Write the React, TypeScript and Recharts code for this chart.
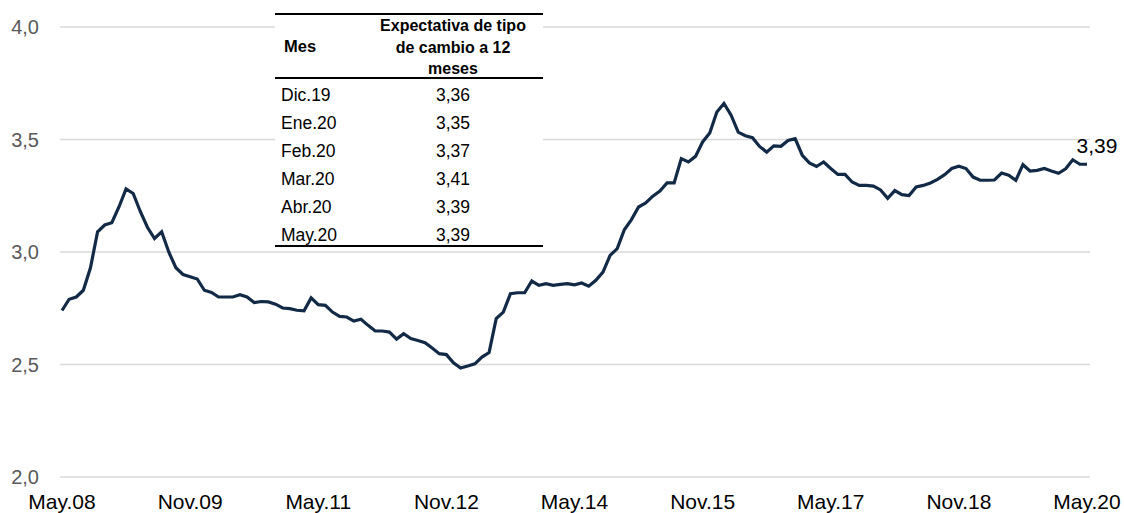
import { CartesianGrid, LabelList, Line, LineChart, XAxis, YAxis } from "recharts";

const FONT = '"Liberation Sans", Arial, sans-serif';

// Monthly series from May.08 to May.20
const monthNames = ["Ene", "Feb", "Mar", "Abr", "May", "Jun", "Jul", "Ago", "Sep", "Oct", "Nov", "Dic"];
const startYear = 2008;
const startMonth = 4; // May

const expectation = [
  2.74, 2.79, 2.8, 2.83, 2.93, 3.09, 3.12, 3.13, 3.2, 3.28, 3.26, 3.18,
  3.11, 3.06, 3.09, 3.0, 2.93, 2.9, 2.89, 2.88, 2.83, 2.82, 2.8, 2.8,
  2.8, 2.81, 2.8, 2.775, 2.78, 2.778, 2.768, 2.751, 2.748, 2.741, 2.739, 2.796,
  2.766, 2.763, 2.733, 2.714, 2.711, 2.693, 2.701, 2.674, 2.649, 2.649, 2.644, 2.613,
  2.637, 2.615, 2.607, 2.597, 2.573, 2.548, 2.544, 2.508, 2.484, 2.493, 2.503, 2.533,
  2.553, 2.704, 2.733, 2.815, 2.819, 2.819, 2.871, 2.852, 2.859, 2.852, 2.856, 2.859,
  2.854, 2.862, 2.848, 2.874, 2.911, 2.985, 3.015, 3.099, 3.144, 3.2, 3.218, 3.248,
  3.271, 3.307, 3.307, 3.415, 3.4, 3.425, 3.489, 3.529, 3.622, 3.66, 3.608, 3.533,
  3.517, 3.508, 3.469, 3.444, 3.472, 3.47, 3.496, 3.504, 3.43, 3.396, 3.38, 3.4,
  3.371, 3.345, 3.345, 3.311, 3.296, 3.296, 3.293, 3.276, 3.239, 3.273, 3.255, 3.251,
  3.289, 3.296, 3.307, 3.323, 3.344, 3.371, 3.381, 3.371, 3.333, 3.319, 3.319, 3.32,
  3.351, 3.341, 3.319, 3.388, 3.36, 3.363, 3.371, 3.36, 3.35, 3.37, 3.41, 3.39,
  3.39,
];

const xTicks = ["May.08", "Nov.09", "May.11", "Nov.12", "May.14", "Nov.15", "May.17", "Nov.18", "May.20"];
const yTicks = [2, 2.5, 3, 3.5, 4];

const tableMonths = ["Dic.19", "Ene.20", "Feb.20", "Mar.20", "Abr.20", "May.20"];
const tableValues = ["3,36", "3,35", "3,37", "3,41", "3,39", "3,39"];

const data = expectation.map((value, i) => {
  const m = startMonth + i;
  const year = startYear + Math.floor(m / 12);
  const label = `${monthNames[m % 12]}.${String(year % 100).padStart(2, "0")}`;
  return { label, value };
});

const fmt = (v: number) => v.toFixed(1).replace(".", ",");

// only the final point carries a value label
function LastLabel(props: any) {
  const { x, y, index } = props;
  if (index !== data.length - 1) return null;
  return (
    <text x={x + 10} y={y - 11} textAnchor="middle" fontSize={21} fill="#000" fontFamily={FONT}>
      {String(data[index].value.toFixed(2)).replace(".", ",")}
    </text>
  );
}

function SummaryTable() {
  const left = 275;
  const width = 268;
  const col1 = 88;
  return (
    <div
      style={{
        position: "absolute",
        left,
        top: 13,
        width,
        height: 236,
        background: "#fff",
        fontFamily: FONT,
        color: "#000",
      }}
    >
      <div style={{ position: "absolute", left: 0, top: 0, width, height: 2, background: "#000" }} />
      <div
        style={{
          position: "absolute",
          left: 9,
          top: 2,
          width: col1 - 9,
          height: 63,
          display: "flex",
          alignItems: "center",
          fontWeight: "bold",
          fontSize: 16.5,
        }}
      >
        Mes
      </div>
      <div
        style={{
          position: "absolute",
          left: col1,
          top: 2,
          width: width - col1,
          textAlign: "center",
          fontWeight: "bold",
          fontSize: 16,
          lineHeight: "21.5px",
        }}
      >
        Expectativa de tipo
        <br />
        de cambio a 12
        <br />
        meses
      </div>
      <div style={{ position: "absolute", left: 0, top: 64, width, height: 1.5, background: "#000" }} />
      {tableMonths.map((m, i) => (
        <div key={m} style={{ position: "absolute", left: 0, top: 68 + i * 28, width, height: 28, fontSize: 17.5 }}>
          <div style={{ position: "absolute", left: 6, top: 0, lineHeight: "28px" }}>{m}</div>
          <div
            style={{
              position: "absolute",
              left: col1,
              width: width - col1,
              top: 0,
              lineHeight: "28px",
              textAlign: "center",
            }}
          >
            {tableValues[i]}
          </div>
        </div>
      ))}
      <div style={{ position: "absolute", left: 0, top: 232, width, height: 2, background: "#000" }} />
    </div>
  );
}

export default function App() {
  return (
    <div style={{ position: "absolute", left: 0, top: 0, width: 1124, height: 513, background: "#fff" }}>
      <LineChart
        width={1124}
        height={513}
        data={data}
        margin={{ top: 27, right: 34, bottom: 0, left: 0 }}
      >
        <CartesianGrid vertical={false} stroke="#d9d9d9" strokeWidth={1.5} />
        <XAxis
          dataKey="label"
          ticks={xTicks}
          interval={0}
          height={36}
          axisLine={false}
          tickLine={false}
          tickSize={0}
          tickMargin={17}
          padding={{ left: 2, right: 3 }}
          tick={{ fontSize: 21, fill: "#000", fontFamily: FONT }}
        />
        <YAxis
          domain={[2, 4]}
          ticks={yTicks}
          width={60}
          axisLine={false}
          tickLine={false}
          tickSize={0}
          tickMargin={21}
          tickFormatter={fmt}
          tick={{ fontSize: 20, fill: "#595959", fontFamily: FONT }}
        />
        <Line
          type="linear"
          dataKey="value"
          stroke="#132a47"
          strokeWidth={3.2}
          dot={false}
          isAnimationActive={false}
        >
          <LabelList dataKey="value" content={<LastLabel />} />
        </Line>
      </LineChart>
      <SummaryTable />
    </div>
  );
}
